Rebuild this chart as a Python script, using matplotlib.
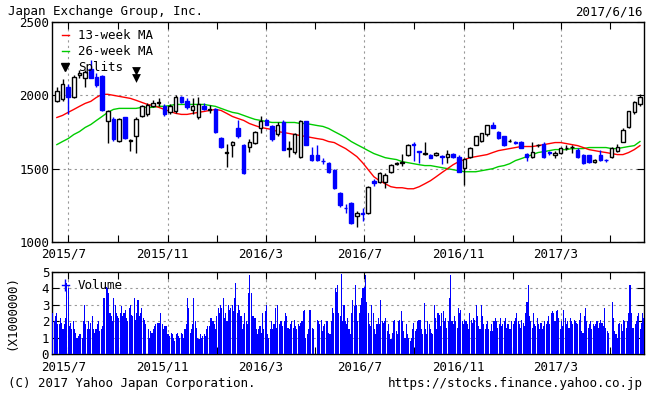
import numpy as np
import pandas as pd
import matplotlib
matplotlib.use("Agg")
import matplotlib.pyplot as plt
import matplotlib.dates as mdates
import matplotlib.transforms as mtransforms
from matplotlib.lines import Line2D

plt.rcParams['font.family'] = ['DejaVu Sans Mono']

title = "Japan Exchange Group, Inc."
date_label = "2017/6/16"
footer_left = "(C) 2017 Yahoo Japan Corporation."
footer_right = "https://stocks.finance.yahoo.co.jp"
vol_unit_label = "(X1000000)"

# weekly candles (first week plotted at 2015-06-17, 7-day step)
first_week = "2015-06-17"
opens = [1959, 1973, 2055, 1990, 2140, 2120, 2180, 2125, 2130, 1822,
         1836, 1692, 1850, 1690, 1720, 1856, 1870, 1930, 1950, 1925,
         1885, 1890, 1986, 1959, 1900, 1850, 1930, 1900, 1904, 1712,
         1610, 1660, 1780, 1664, 1650, 1678, 1780, 1830, 1788, 1733,
         1815, 1637, 1616, 1582, 1822, 1596, 1590, 1555, 1541, 1493,
         1336, 1233, 1267, 1180, 1200, 1200, 1415, 1411, 1410, 1480,
         1534, 1541, 1590, 1666, 1620, 1600, 1590, 1590, 1585, 1580,
         1600, 1582, 1507, 1582, 1664, 1690, 1733, 1800, 1753, 1720,
         1690, 1680, 1685, 1603, 1582, 1660, 1671, 1612, 1590, 1610,
         1640, 1645, 1630, 1596, 1590, 1545, 1590, 1562, 1582, 1620,
         1685, 1781, 1883, 1938]
highs = [2055, 2110, 2075, 2140, 2170, 2170, 2240, 2150, 2140, 1900,
         1850, 1845, 1855, 1705, 1850, 1935, 1945, 1965, 1980, 1940,
         1940, 2000, 1995, 1980, 1980, 1990, 1945, 1935, 1915, 1715,
         1665, 1690, 1830, 1670, 1700, 1760, 1860, 1840, 1800, 1815,
         1830, 1690, 1740, 1830, 1825, 1650, 1660, 1575, 1545, 1500,
         1340, 1260, 1275, 1210, 1230, 1385, 1430, 1480, 1470, 1535,
         1545, 1600, 1665, 1680, 1620, 1680, 1600, 1615, 1590, 1625,
         1610, 1590, 1575, 1650, 1725, 1745, 1800, 1815, 1760, 1725,
         1700, 1690, 1690, 1610, 1685, 1670, 1680, 1620, 1620, 1650,
         1660, 1660, 1640, 1600, 1595, 1565, 1630, 1565, 1650, 1665,
         1775, 1895, 1960, 2010]
lows = [1952, 1959, 1870, 1980, 2120, 2055, 2120, 2060, 1890, 1678,
        1690, 1680, 1700, 1620, 1610, 1850, 1860, 1920, 1930, 1860,
        1875, 1880, 1945, 1905, 1870, 1840, 1900, 1880, 1740, 1640,
        1514, 1582, 1710, 1465, 1615, 1670, 1740, 1795, 1690, 1725,
        1625, 1580, 1600, 1575, 1660, 1555, 1555, 1530, 1470, 1360,
        1240, 1200, 1120, 1100, 1140, 1190, 1380, 1400, 1370, 1470,
        1525, 1520, 1585, 1555, 1541, 1590, 1570, 1585, 1535, 1540,
        1575, 1475, 1390, 1575, 1660, 1685, 1725, 1775, 1705, 1655,
        1680, 1665, 1640, 1555, 1575, 1650, 1575, 1595, 1570, 1600,
        1630, 1610, 1575, 1535, 1540, 1540, 1555, 1545, 1575, 1615,
        1680, 1775, 1875, 1930]
closes = [2027, 2075, 1986, 2123, 2150, 2160, 2120, 2070, 1900, 1890,
          1699, 1836, 1712, 1695, 1836, 1925, 1935, 1950, 1955, 1875,
          1925, 1986, 1952, 1918, 1930, 1938, 1905, 1910, 1747, 1650,
          1612, 1685, 1720, 1473, 1685, 1753, 1822, 1800, 1699, 1801,
          1630, 1640, 1733, 1822, 1664, 1562, 1560, 1552, 1480, 1370,
          1253, 1230, 1130, 1200, 1190, 1377, 1405, 1473, 1460, 1527,
          1538, 1545, 1658, 1660, 1616, 1605, 1575, 1610, 1580, 1600,
          1580, 1480, 1568, 1644, 1720, 1740, 1795, 1780, 1712, 1664,
          1692, 1678, 1644, 1580, 1616, 1662, 1582, 1610, 1610, 1640,
          1642, 1648, 1582, 1541, 1545, 1560, 1560, 1560, 1644, 1650,
          1767, 1890, 1952, 1986]

ma13 = [1849, 1863, 1884, 1904, 1925, 1945, 1959, 1986, 2007, 2007,
        2000, 1993, 1986, 1979, 1966, 1952, 1938, 1931, 1918, 1904,
        1890, 1877, 1870, 1870, 1877, 1884, 1890, 1897, 1904, 1897,
        1877, 1856, 1842, 1829, 1808, 1794, 1781, 1774, 1767, 1753,
        1747, 1740, 1733, 1726, 1719, 1712, 1705, 1699, 1685, 1678,
        1657, 1637, 1610, 1582, 1541, 1493, 1445, 1418, 1397, 1377,
        1370, 1370, 1363, 1363, 1377, 1397, 1418, 1445, 1473, 1500,
        1527, 1548, 1562, 1575, 1582, 1589, 1596, 1610, 1623, 1630,
        1637, 1644, 1651, 1651, 1651, 1657, 1664, 1671, 1678, 1678,
        1671, 1664, 1657, 1644, 1630, 1623, 1616, 1610, 1603, 1596,
        1596, 1610, 1630, 1657]
ma26 = [1664, 1685, 1705, 1733, 1753, 1781, 1801, 1829, 1856, 1884,
        1904, 1911, 1911, 1911, 1911, 1918, 1918, 1918, 1925, 1925,
        1931, 1938, 1938, 1938, 1938, 1938, 1938, 1931, 1925, 1911,
        1897, 1884, 1877, 1863, 1849, 1836, 1829, 1822, 1815, 1815,
        1815, 1815, 1815, 1808, 1808, 1801, 1794, 1788, 1774, 1753,
        1733, 1712, 1685, 1664, 1644, 1623, 1603, 1589, 1575, 1568,
        1562, 1548, 1541, 1534, 1527, 1521, 1521, 1514, 1507, 1500,
        1493, 1486, 1479, 1479, 1479, 1486, 1493, 1500, 1514, 1521,
        1534, 1555, 1568, 1582, 1596, 1610, 1616, 1623, 1630, 1630,
        1630, 1637, 1637, 1637, 1644, 1644, 1644, 1644, 1637, 1637,
        1644, 1651, 1657, 1685]

split_dates = ["2015-09-23"]

# daily volume, units of 100,000 shares, from 2015-06-12 to 2017-06-16
volume_text = """
25 20 23 25 18 18 22 19 15 18 22 43 40 17 19 15 20 15 13 10
11 12 12 10 20 30 18 15 20 15 19 23 15 13 15 18 20 14 15 17
34 34 41 40 37 25 23 20 34 30 25 23 22 25 29 23 25 27 22 20
28 30 24 23 34 21 25 33 23 25 28 22 21 18 0 15 10 14 13 15
17 18 19 19 19 25 18 15 17 17 12 12 11 13 12 10 8 12 13 11
10 13 12 10 15 18 34 28 13 15 18 34 20 16 10 9 12 10 11 12
11 15 17 17 22 22 20 18 15 23 28 25 30 28 34 22 25 20 30 27
28 30 26 34 43 25 30 27 23 15 18 25 20 18 37 48 37 23 23 22
15 12 15 17 13 25 15 26 30 12 10 15 20 15 18 28 16 30 18 20
20 17 20 25 23 16 15 18 20 16 21 17 15 18 17 19 20 26 27 10
12 15 27 27 16 15 0 0 21 20 18 21 14 17 18 20 20 13 12 20
28 25 40 38 42 25 23 49 20 30 20 18
22 15 12 25 33 29 42 30 20 25 30 34 40 41 48 32 25 18 17 30
25 15 12 18 22 18 33 20 19 20 22 14 18 12 9 13 20 21 14 12
20 21 26 20 14 10 18 12 10 8 10 15 19 14 15 20 21 21 15 12
31 15 12 20 18 15 13 12 30 22 15 25 24 17 25 26 20 22 16 20
34 48 20 18 23 20 16 28 25 27 20 18 21 20 18 15 25 21 19 22
21 30 23 17 15 30 23 18 15 18 20 15 14 18 14 20 22 20 16 18
22 17 18 20 22 16 18 15 15 20 18 20 22 25 20 18 16 21 19 17
25 32 42 23 20 16 25 18 17 22 18 15 19 15 17 20 18 20 23 18
25 26 25 20 26 27 22 15 20 17 27 22 18 20 16 22 20 18 21 20
19 18 21 25 14 13 23 28 20 16 18 20 15 18 17 18 20 16 19 21
19 17 28 16 14 13 0 0 32 22 14 12 10 18 19 18 14 21 20 16
20 25 42 25 16 16 18 20 23 25 15 19 25 22
"""
volume = [int(v) for v in volume_text.split()]
vol_start, vol_end = "2015-06-12", "2017-06-12"

major_months = ["2015-07-01", "2015-11-01", "2016-03-01", "2016-07-01", "2016-11-01", "2017-03-01"]
minor_months = ["2015-09-01", "2016-01-01", "2016-05-01", "2016-09-01", "2017-01-01", "2017-05-01"]
xlim_dates = ("2015-06-11", "2017-06-12")
price_ticks = [1000, 1500, 2000, 2500]
vol_ticks = [0, 1, 2, 3, 4, 5]

BLUE = "#0000ff"
FS = 9

W, H = 651, 397
fig = plt.figure(figsize=(W / 100, H / 100), dpi=100)
ax = fig.add_axes([52 / W, 1 - 242 / H, 592 / W, 220 / H])
axv = fig.add_axes([52 / W, 1 - 354 / H, 592 / W, 82 / H])

O = np.array(opens, float); Hh = np.array(highs, float)
L = np.array(lows, float); C = np.array(closes, float)
weeks = pd.date_range(first_week, periods=len(C), freq="7D")
x = mdates.date2num(weeks)
up = C >= O
dn = ~up
bw = 4.3

ax.vlines(x[up], L[up], Hh[up], color="black", lw=1.0, zorder=3)
ax.vlines(x[dn], L[dn], Hh[dn], color=BLUE, lw=1.0, zorder=3)
ax.plot(x, ma13, color="#ff0000", lw=1.0, zorder=2.5)
ax.plot(x, ma26, color="#00cc00", lw=1.0, zorder=2.4)
ax.bar(x[up], np.maximum(C[up] - O[up], 0.5), bottom=O[up], width=bw,
       facecolor="white", edgecolor="black", lw=1.0, zorder=4)
ax.bar(x[dn], np.maximum(O[dn] - C[dn], 0.5), bottom=C[dn], width=bw,
       facecolor=BLUE, edgecolor=BLUE, lw=1.0, zorder=4)

trans = mtransforms.blended_transform_factory(ax.transData, ax.transAxes)
for sd in split_dates:
    sx = mdates.date2num(pd.Timestamp(sd))
    ax.scatter([sx, sx], [0.777, 0.745], marker="v", s=40, color="black",
               transform=trans, zorder=5, linewidths=0)

xmin, xmax = [mdates.date2num(pd.Timestamp(d)) for d in xlim_dates]
ax.set_xlim(xmin, xmax)
ax.set_ylim(price_ticks[0], price_ticks[-1])
ax.set_yticks(price_ticks)

vx = np.linspace(mdates.date2num(pd.Timestamp(vol_start)),
                 mdates.date2num(pd.Timestamp(vol_end)), len(volume))
axv.bar(vx, np.array(volume) / 10.0, width=1.35, color=BLUE, lw=0, zorder=3)
axv.set_xlim(xmin, xmax)
axv.set_ylim(vol_ticks[0], vol_ticks[-1])
axv.set_yticks(vol_ticks)

maj = [mdates.date2num(pd.Timestamp(d)) for d in major_months]
mnr = [mdates.date2num(pd.Timestamp(d)) for d in minor_months]
labels = [f"{pd.Timestamp(d).year}/{pd.Timestamp(d).month}" for d in major_months]
shift = mtransforms.ScaledTranslation(-5 / 100, 0, fig.dpi_scale_trans)
for a, xpad in ((ax, 4), (axv, 5)):
    a.set_xticks(maj)
    a.set_xticklabels(labels, fontsize=FS)
    a.set_xticks(mnr, minor=True)
    a.tick_params(axis="both", which="both", direction="in", top=True, right=True,
                  length=5, width=0.8, labelsize=FS, pad=2)
    a.tick_params(axis="x", which="major", pad=xpad)
    for lab in a.get_xticklabels():
        lab.set_transform(lab.get_transform() + shift)
    a.grid(True, which="major", color="#999999", linestyle=(0, (2, 3)), lw=0.8, zorder=1)
    for s in a.spines.values():
        s.set_linewidth(1.0)
        s.set_color("black")
    a.set_axisbelow(True)

h_price = [Line2D([], [], color="#ff0000", lw=1.0),
           Line2D([], [], color="#00cc00", lw=1.0),
           Line2D([], [], color="black", marker="v", linestyle="none", markersize=6)]
ax.legend(h_price, ["13-week MA", "26-week MA", "Splits"], loc="upper left",
          bbox_to_anchor=(0.012, 0.98), frameon=False, fontsize=FS,
          handlelength=0.6, handletextpad=0.7, labelspacing=0.25, borderaxespad=0.1,
          borderpad=0.1)
axv.legend([Line2D([], [], color=BLUE, lw=1.0, marker="|", markersize=9)], ["Volume"],
           loc="upper left", bbox_to_anchor=(0.012, 0.94), frameon=False, fontsize=FS,
           handlelength=0.6, handletextpad=0.7, borderaxespad=0.1, borderpad=0.1)

fig.text(8 / W, 1 - 12 / H, title, fontsize=FS, va="center", ha="left")
fig.text(643 / W, 1 - 12 / H, date_label, fontsize=FS, va="center", ha="right")
fig.text(8 / W, 1 - 383 / H, footer_left, fontsize=FS, va="center", ha="left")
fig.text(643 / W, 1 - 383 / H, footer_right, fontsize=FS, va="center", ha="right")
fig.text(12 / W, 1 - 313 / H, vol_unit_label, fontsize=FS, va="center", ha="center",
         rotation=90)

fig.savefig("out.png", dpi=100, facecolor="white")
